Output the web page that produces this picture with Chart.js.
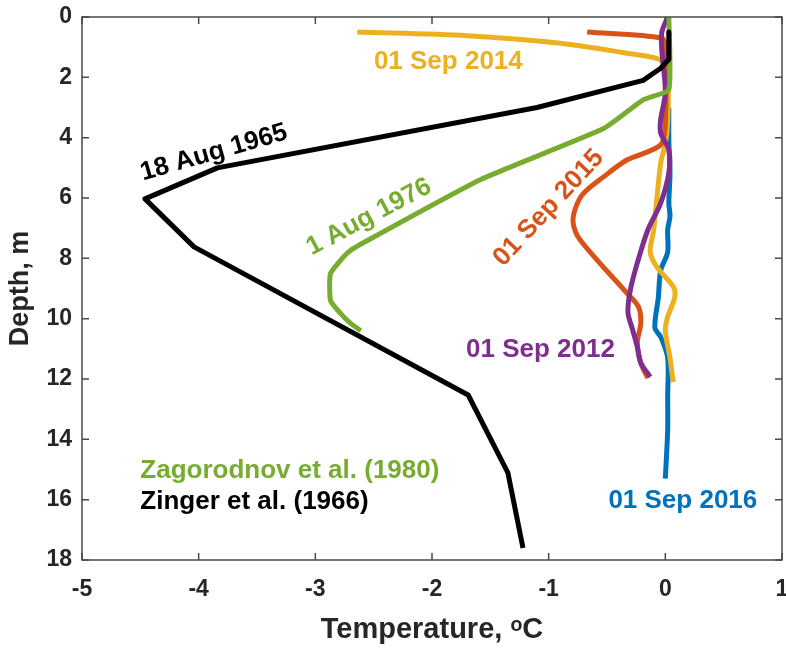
<!DOCTYPE html>
<html>
<head>
<meta charset="utf-8">
<script src="https://cdn.jsdelivr.net/npm/chart.js@4"></script>
<style>
  body { margin: 0; background: #fff; }
</style>
</head>
<body>
<canvas id="profileChart" width="786" height="648"></canvas>
<script>
// Temperature (degC) and depth (m)
const zinger1965Temp  = [0.03, 0.03, -0.04, -0.19, -1.1, -3.84, -4.46, -4.04, -1.69, -1.35, -1.22];
const zinger1965Depth = [0.5, 1.4, 1.7, 2.1, 3.0, 5.0, 6.03, 7.62, 12.53, 15.1, 17.6];

const zagorodnov1976Temp  = [0.03, 0.03, -0.19, -0.53, -1.59, -2.55, -2.72, -2.87, -2.87, -2.79, -2.7, -2.61];
const zagorodnov1976Depth = [0.0, 2.4, 2.75, 3.7, 5.4, 7.4, 7.8, 8.5, 9.4, 9.8, 10.15, 10.4];

const sep2012Temp  = [0.02, -0.03, -0.03, 0.0, -0.04, -0.04, 0.03, 0.03, -0.04, -0.15, -0.24, -0.30, -0.32, -0.28, -0.24, -0.21, -0.13];
const sep2012Depth = [0.0, 0.5, 1.1, 2.5, 3.4, 3.85, 4.4, 5.17, 6.17, 7.06, 8.15, 9.05, 9.81, 10.37, 10.94, 11.47, 11.93];

const sep2015Temp  = [-0.67, -0.03, 0.0, 0.0, -0.04, -0.33, -0.53, -0.70, -0.77, -0.79, -0.73, -0.33, -0.23, -0.21, -0.24, -0.21, -0.15];
const sep2015Depth = [0.5, 0.7, 1.0, 3.5, 4.24, 4.74, 5.3, 5.84, 6.33, 6.83, 7.39, 9.15, 9.61, 10.14, 10.8, 11.47, 11.97];

const sep2014Temp  = [-2.64, -1.7, -0.9, -0.33, -0.04, 0.02, 0.02, 0.0, -0.04, -0.10, -0.13, -0.07, 0.07, 0.08, 0.02, 0.0, 0.04, 0.06, 0.07];
const sep2014Depth = [0.5, 0.62, 0.87, 1.2, 1.43, 2.0, 3.5, 4.2, 4.85, 7.06, 7.8, 8.3, 8.95, 9.3, 9.94, 10.4, 11.3, 11.9, 12.1];

const sep2016Temp  = [0.03, 0.03, 0.04, 0.03, 0.04, 0.02, 0.02, -0.04, -0.06, -0.09, -0.04, 0.02, 0.02, 0.02, 0.0];
const sep2016Depth = [3.0, 4.1, 5.2, 6.17, 6.6, 7.06, 7.8, 8.4, 9.3, 10.3, 10.6, 11.3, 12.6, 13.7, 15.3];

const tempTicks = [-5, -4, -3, -2, -1, 0, 1];
const depthTicks = [0, 2, 4, 6, 8, 10, 12, 14, 16, 18];

// in-plot text: [text, temp, depth, angle, colour, align]
const notes = [
  ["01 Sep 2014", -1.86, 1.5, 0, "#EDB120", "center"],
  ["18 Aug 1965", -3.87, 4.5, -16, "#000000", "center"],
  ["1 Aug 1976", -2.54, 6.63, -28, "#77AC30", "center"],
  ["01 Sep 2015", -1.0, 6.33, -47, "#D95319", "center"],
  ["01 Sep 2012", -1.07, 11.04, 0, "#7E2F8E", "center"],
  ["01 Sep 2016", 0.15, 16.04, 0, "#0072BD", "center"],
  ["Zagorodnov et al. (1980)", -4.5, 15.05, 0, "#77AC30", "left"],
  ["Zinger et al. (1966)", -4.5, 16.08, 0, "#000000", "left"]
];

const FONT = "'Liberation Sans', Arial, Helvetica, sans-serif";

function pts(t, d) {
  return t.map((v, i) => ({ x: v, y: d[i] }));
}

function line(label, t, d, color, tension) {
  return {
    label: label,
    data: pts(t, d),
    showLine: true,
    borderColor: color,
    backgroundColor: color,
    borderWidth: 5,
    pointRadius: 0,
    tension: tension,
    borderJoinStyle: 'round'
  };
}

function noOverhang(s) {
  s.paddingLeft = 0;
  s.paddingRight = 0;
  s.paddingTop = 0;
  s.paddingBottom = 0;
}

// frame, inward ticks and the text labels
const frameAndNotes = {
  id: 'frameAndNotes',
  afterDatasetsDraw(chart) {
    const { ctx, chartArea: a, scales: { x, y } } = chart;
    ctx.save();
    ctx.strokeStyle = '#4a4a4a';
    ctx.lineWidth = 1.5;
    ctx.strokeRect(a.left, a.top, a.right - a.left, a.bottom - a.top);
    ctx.beginPath();
    tempTicks.forEach(v => {
      const px = x.getPixelForValue(v);
      ctx.moveTo(px, a.bottom); ctx.lineTo(px, a.bottom - 7);
      ctx.moveTo(px, a.top); ctx.lineTo(px, a.top + 7);
    });
    depthTicks.forEach(v => {
      const py = y.getPixelForValue(v);
      ctx.moveTo(a.left, py); ctx.lineTo(a.left + 7, py);
      ctx.moveTo(a.right, py); ctx.lineTo(a.right - 7, py);
    });
    ctx.stroke();

    ctx.font = "bold 26px " + FONT;
    ctx.textBaseline = 'middle';
    notes.forEach(n => {
      ctx.save();
      ctx.translate(x.getPixelForValue(n[1]), y.getPixelForValue(n[2]));
      ctx.rotate(n[3] * Math.PI / 180);
      ctx.fillStyle = n[4];
      ctx.textAlign = n[5];
      ctx.fillText(n[0], 0, 0);
      ctx.restore();
    });
    ctx.restore();
  }
};

new Chart(document.getElementById("profileChart"), {
  type: 'scatter',
  data: {
    datasets: [
      line("18 Aug 1965", zinger1965Temp, zinger1965Depth, '#000000', 0),
      line("1 Aug 1976", zagorodnov1976Temp, zagorodnov1976Depth, '#77AC30', 0.15),
      line("01 Sep 2012", sep2012Temp, sep2012Depth, '#7E2F8E', 0.3),
      line("01 Sep 2015", sep2015Temp, sep2015Depth, '#D95319', 0.3),
      line("01 Sep 2014", sep2014Temp, sep2014Depth, '#EDB120', 0.3),
      line("01 Sep 2016", sep2016Temp, sep2016Depth, '#0072BD', 0.3)
    ]
  },
  options: {
    responsive: false,
    animation: false,
    layout: { padding: { top: 17, right: 4, left: 0, bottom: 0 } },
    plugins: {
      legend: { display: false },
      tooltip: { enabled: false }
    },
    scales: {
      x: {
        type: 'linear',
        min: -5,
        max: 1,
        afterFit(s) { s.height = 88; noOverhang(s); },
        afterBuildTicks(s) { s.ticks = tempTicks.map(v => ({ value: v })); },
        grid: { display: false, drawTicks: false },
        border: { display: false },
        ticks: {
          padding: 16,
          color: '#262626',
          font: { family: FONT, size: 23, weight: 'bold' }
        },
        title: {
          display: true,
          text: 'Temperature, \u1D52C',
          color: '#262626',
          padding: { top: 0, bottom: 1 },
          font: { family: FONT, size: 29, weight: 'bold' }
        }
      },
      y: {
        type: 'linear',
        reverse: true,
        min: 0,
        max: 18,
        afterFit(s) { s.width = 82; noOverhang(s); },
        afterBuildTicks(s) { s.ticks = depthTicks.map(v => ({ value: v })); },
        grid: { display: false, drawTicks: false },
        border: { display: false },
        ticks: {
          padding: 10,
          color: '#262626',
          font: { family: FONT, size: 23, weight: 'bold' }
        },
        title: {
          display: true,
          text: 'Depth, m',
          color: '#262626',
          padding: { top: 4, bottom: 0 },
          font: { family: FONT, size: 27, weight: 'bold' }
        }
      }
    }
  },
  plugins: [frameAndNotes]
});
</script>
</body>
</html>
